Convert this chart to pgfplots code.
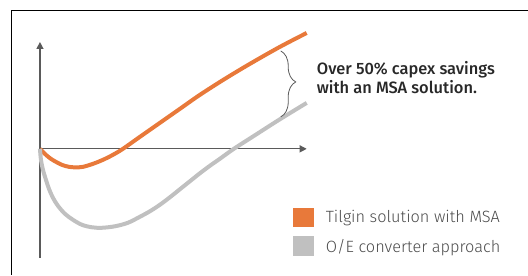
\documentclass[border=0pt]{standalone}
\usepackage{fontspec}
\setmainfont{Fira Sans}
\newfontfamily\lightfont{Fira Sans Light}
\newfontfamily\medfont{Fira Sans Medium}
\usepackage{pgfplots}
\pgfplotsset{compat=1.18}
\usetikzlibrary{arrows.meta,decorations.pathreplacing}
\definecolor{orangeC}{RGB}{232,121,58}
\definecolor{grayC}{RGB}{192,192,192}
\definecolor{axisC}{RGB}{90,90,90}
\definecolor{txtC}{RGB}{40,40,40}
\definecolor{legC}{RGB}{75,75,75}
\begin{document}
\begin{tikzpicture}
\begin{axis}[
  width=528bp, height=275bp, scale only axis,
  xmin=-40, xmax=488, ymin=-126, ymax=149,
  hide axis, clip=false,
  legend style={at={(axis cs:253,-58.5)}, anchor=north west, draw=none, fill=none,
    font=\fontsize{16.4}{19}\lightfont, inner sep=0pt, row sep=9bp,
    nodes={inner sep=0pt},
    /tikz/every odd column/.style={column sep=12bp}},
  legend cell align=left,
]
\path (rel axis cs:0,0) rectangle (rel axis cs:1,1);
% frame
\draw[black, line width=1bp] (axis cs:-28,-126) -- (axis cs:-28,138) -- (axis cs:488,138);
% axes
\draw[axisC, line width=1.2bp, -{Triangle[width=7bp,length=7bp]}] (axis cs:0,-109) -- (axis cs:0,107);
\draw[axisC, line width=1.2bp, -{Triangle[width=7bp,length=7bp]}] (axis cs:0,0) -- (axis cs:267,0);
\addplot[orangeC, line width=4bp, smooth, tension=0.55,
  legend image code/.code={\fill[orangeC] (0bp,-8bp) rectangle (17bp,8bp);}]
coordinates {
(0,0) (6,-6) (11,-10) (16,-13) (22,-16) (29,-18) (36,-18.5) (43,-18) (53,-15) (63,-11)
(73,-6) (83,0) (100,12) (120,26) (140,40) (160,54) (185,70) (210,85) (240,102) (267,116)
};
\addlegendentry{\textcolor{legC}{Tilgin solution with MSA}}
\addplot[grayC, line width=4bp, smooth, tension=0.55,
  legend image code/.code={\fill[grayC] (0bp,-8bp) rectangle (17bp,8bp);}]
coordinates {
(0,0) (1,-11) (3,-21) (6,-31) (9,-40) (13,-49) (18,-57) (25,-65) (33,-71) (42,-76)
(52,-78.5) (62,-79) (75,-77.5) (88,-74) (100,-68) (110,-62.5) (120,-56) (130,-48.5)
(140,-40.5) (150,-32.5) (160,-24.5) (170,-17) (180,-10) (194,0) (215,13.5) (240,29.5) (267,46)
};
\addlegendentry{\textcolor{legC}{O/E converter approach}}
% brace
\draw[axisC, line width=0.8bp, decorate, decoration={brace, amplitude=15bp, aspect=0.47}]
  (axis cs:241,98) -- (axis cs:241,32);
\node[anchor=base west, inner sep=0pt, font=\fontsize{16.5}{19}\medfont, text=txtC] at (axis cs:277,74) {Over 50\% capex savings};
\node[anchor=base west, inner sep=0pt, font=\fontsize{16.5}{19}\medfont, text=txtC] at (axis cs:277,55) {with an MSA solution.};
\end{axis}
\end{tikzpicture}
\end{document}
